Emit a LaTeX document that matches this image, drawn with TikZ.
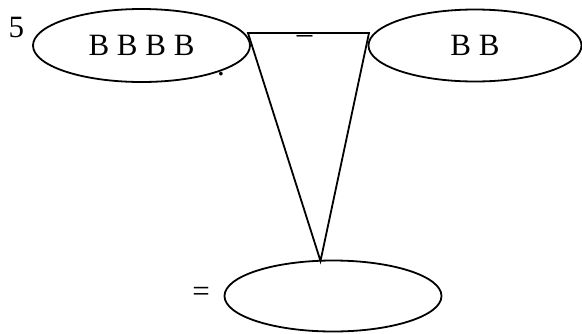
\documentclass[tikz,border=0pt]{standalone}
\usepackage{fontspec}
\setmainfont{Liberation Serif}
\usetikzlibrary{shapes.geometric}
\begin{document}
\begin{tikzpicture}[x=1pt,y=-1pt,
  oval/.style={ellipse,draw=black,line width=1.8pt,inner sep=0pt,font=\fontsize{31}{36}\selectfont},
  lbl/.style={inner sep=0pt,font=\fontsize{31}{36}\selectfont},
  link/.style={draw=black,line width=1.8pt,line join=miter}]
\useasboundingbox (0,0) rectangle (582,333);
\node[oval,minimum width=217pt,minimum height=73pt] (e1) at (141.5,45.5) {B B B B};
\node[oval,minimum width=213pt,minimum height=72pt] (e2) at (475,45.5) {B B};
\node[oval,minimum width=217pt,minimum height=71pt] (e3) at (333,296) {};
\node[lbl] (five) at (16.5,27) {5};
\node[lbl] (minus) at (304.5,39) {–};
\node[lbl] (dot) at (221,74) {.};
\node[lbl] (eq) at (201,294) {=};
\coordinate (tl) at (248,33);
\coordinate (tr) at (369,33);
\coordinate (apex) at (320.5,261);
\draw[link] (tl) -- (tr) -- (apex) -- cycle;
\end{tikzpicture}
\end{document}
